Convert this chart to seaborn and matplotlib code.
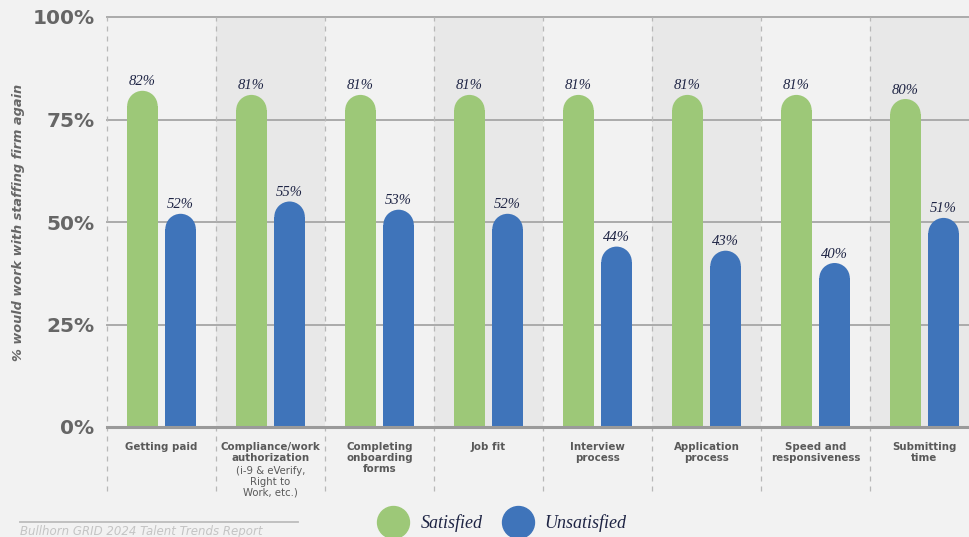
import pandas as pd
import seaborn as sns
import matplotlib.pyplot as plt
from matplotlib.patches import Ellipse
from matplotlib.lines import Line2D
import matplotlib.transforms as mtransforms

# Chart data
categories = ['Getting paid', 'Compliance/work\nauthorization', 'Completing\nonboarding\nforms',
              'Job fit', 'Interview\nprocess', 'Application\nprocess',
              'Speed and\nresponsiveness', 'Submitting\ntime']
satisfied = [82, 81, 81, 81, 81, 81, 81, 80]
unsatisfied = [52, 55, 53, 52, 44, 43, 40, 51]
series_names = ['Satisfied', 'Unsatisfied']
y_ticks = [0, 25, 50, 75, 100]
y_ticklabels = ['0%', '25%', '50%', '75%', '100%']
compliance_note = '(i-9 & eVerify,\nRight to\nWork, etc.)'

GREEN = '#9dc878'
BLUE = '#3f74ba'
BG = '#f2f2f2'
SHADE = '#e8e8e8'
GRAY_TXT = '#666666'
NAVY = '#1e2444'

df = pd.DataFrame({
    'category': categories * 2,
    'value': satisfied + unsatisfied,
    'series': [series_names[0]] * len(categories) + [series_names[1]] * len(categories),
})

fig = plt.figure(figsize=(9.7, 5.37), dpi=100, facecolor=BG)
W, H = 970, 537
ax = fig.add_axes([107 / W, (H - 427) / H, (979 - 107) / W, 410 / H])
ax.set_facecolor(BG)

# alternating band shading
for i in range(len(categories)):
    if i % 2 == 1:
        ax.axvspan(i - 0.5, i + 0.5, color=SHADE, zorder=0, lw=0)

sns.barplot(data=df, x='category', y='value', hue='series', order=categories,
            hue_order=series_names, palette=[GREEN, BLUE], width=0.7, gap=0.2,
            legend=False, ax=ax, zorder=3, saturation=1, linewidth=0)

ax.set_xlim(-0.5, len(categories) - 0.5)
ax.set_ylim(0, 100)

# horizontal grid
for t in y_ticks:
    if t == 0:
        ax.axhline(t, color='#9a9a9a', lw=2.2, zorder=4, clip_on=False)
    else:
        ax.axhline(t, color='#ababab', lw=1.4, zorder=1, clip_on=False)

# dashed dividers extending below the axis
for i in range(len(categories) + 1):
    ax.axvline(i - 0.5, ymin=-0.155, ymax=1, color='#b8b8b8', lw=0.9,
               ls=(0, (4, 4)), zorder=2, clip_on=False)

# rounded bar tops
px_per_unit_x = 872 / len(categories)
px_per_unit_y = 410 / 100
bars = [p for p in ax.patches if p.get_height() > 0 and p.get_width() < 0.5]
for p in bars:
    x, w, h = p.get_x(), p.get_width(), p.get_height()
    r = (w * px_per_unit_x / 2) / px_per_unit_y
    p.set_height(h - r)
    ax.add_patch(Ellipse((x + w / 2, h - r), w, 2 * r, facecolor=p.get_facecolor(),
                         edgecolor='none', zorder=3, lw=0))
    ax.text(x + w / 2, h + 0.6, f'{int(round(h))}%', ha='center', va='bottom',
            fontsize=10.5, style='italic', family='Liberation Serif', color=NAVY, zorder=5)

# axis labels & ticks
ax.set_yticks(y_ticks)
ax.set_yticklabels(y_ticklabels, fontsize=14.5, fontweight='heavy', color=GRAY_TXT,
                   family='DejaVu Sans')
ax.tick_params(axis='y', length=0, pad=9)
ax.set_xticks([])
ax.set_xlabel('')
ax.set_ylabel('% would work with staffing firm again', fontsize=9.3, fontweight='bold',
              style='italic', color=GRAY_TXT)
ax.yaxis.set_label_coords(-0.094, 0.5)
for s in ax.spines.values():
    s.set_visible(False)

# category labels
trans = mtransforms.blended_transform_factory(ax.transData, ax.transAxes)
for i, c in enumerate(categories):
    ax.text(i, -0.036, c, transform=trans, ha='center', va='top', fontsize=7.4,
            fontweight='bold', color='#595959', linespacing=1.15)
    if i == 1:
        ax.text(i, -0.096, compliance_note, transform=trans, ha='center', va='top',
                fontsize=7.3, color='#595959', linespacing=1.1)

# legend
handles = [Line2D([], [], marker='o', ls='', markersize=23, markerfacecolor=col,
                  markeredgecolor=col) for col in (GREEN, BLUE)]
fig.legend(handles, series_names, loc='center', bbox_to_anchor=(501 / W, 1 - 523 / H),
           ncol=2, frameon=False, handletextpad=0.5, columnspacing=0.95,
           prop={'family': 'Liberation Serif', 'style': 'italic', 'size': 13},
           labelcolor=NAVY)

# footer
fig.add_artist(Line2D([20 / W, 298 / W], [1 - 522 / H, 1 - 522 / H], color='#bcbcbc', lw=1.3))
fig.text(20 / W, 1 - 525 / H, 'Bullhorn GRID 2024 Talent Trends Report', ha='left', va='top',
         fontsize=8.5, style='italic', color='#c4c4c4')

fig.savefig('out.png', dpi=100, facecolor=BG)
